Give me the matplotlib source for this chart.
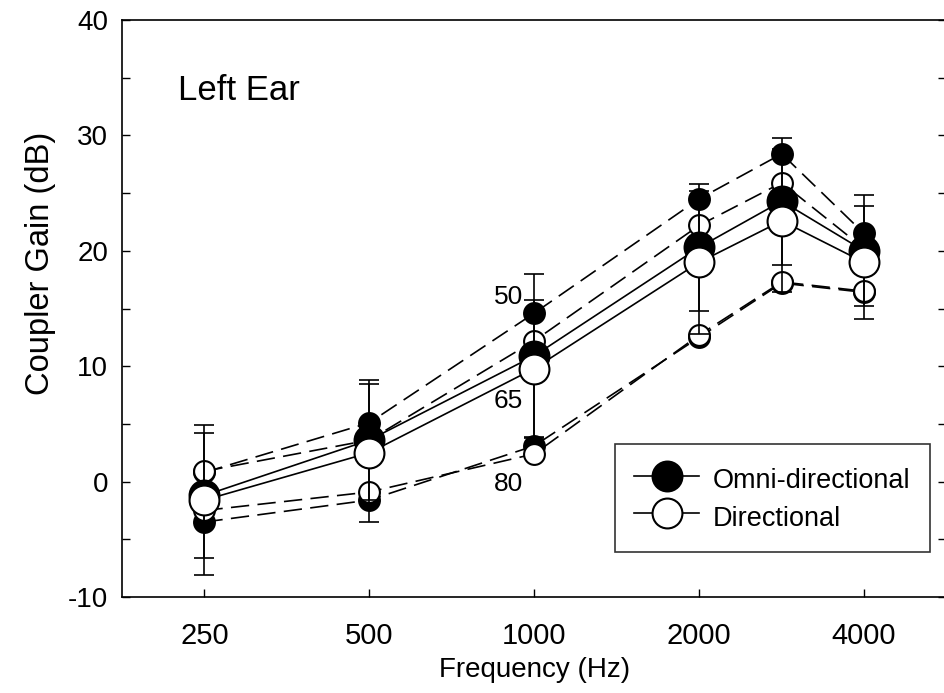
import numpy as np
import matplotlib
matplotlib.use("Agg")
import matplotlib.pyplot as plt
from matplotlib.ticker import MultipleLocator, NullLocator, FixedLocator
from matplotlib.lines import Line2D

plt.rcParams['font.family'] = ['Liberation Sans', 'DejaVu Sans']
plt.rcParams['axes.unicode_minus'] = False

# frequencies (Hz) - the unlabeled point sits half-way between 2000 and 4000
freqs = [250, 500, 1000, 2000, 2830, 4000]
tick_freqs = [250, 500, 1000, 2000, 4000]
tick_labels = ["250", "500", "1000", "2000", "4000"]

# coupler gain (dB) per input level
omni_50 = [0.8, 5.1, 14.6, 24.5, 28.4, 21.5]
omni_65 = [-1.2, 3.6, 10.9, 20.3, 24.3, 20.0]
omni_80 = [-3.5, -1.6, 3.1, 12.5, 17.2, 16.4]
dir_50 = [0.9, 3.6, 12.2, 22.2, 25.9, 20.2]
dir_65 = [-1.6, 2.5, 9.8, 19.0, 22.6, 19.0]
dir_80 = [-2.5, -0.9, 2.4, 12.7, 17.3, 16.5]

# standard deviations, shown for the 65 dB curves only
omni_65_sd = [5.4, 5.2, 7.1, 5.5, 5.5, 4.8]
dir_65_sd = [6.5, 6.0, 5.9, 6.2, 6.2, 4.9]

level_labels = ["50", "65", "80"]
level_label_y = [16.0, 7.0, -0.2]

fig = plt.figure(figsize=(9.45, 6.93), dpi=100)
ax = fig.add_axes([122 / 945, 96 / 693, (946.5 - 122) / 945, (597 - 20) / 693])

small = 15
big = 21.5
lw = 1.2
dash = (0, (11, 5))

# dashed curves for 50 and 80 dB SPL
ax.plot(freqs, omni_50, ls=dash, color="black", lw=lw, marker="o", ms=small,
        mfc="black", mec="black", mew=1.5, zorder=2)
ax.plot(freqs, omni_80, ls=dash, color="black", lw=lw, marker="o", ms=small,
        mfc="black", mec="black", mew=1.5, zorder=2)
ax.plot(freqs, dir_50, ls=dash, color="black", lw=lw, marker="o", ms=small,
        mfc="white", mec="black", mew=1.5, zorder=2.1)
ax.plot(freqs, dir_80, ls=dash, color="black", lw=lw, marker="o", ms=small,
        mfc="white", mec="black", mew=1.5, zorder=2.1)

# error bars
ax.errorbar(freqs, omni_65, yerr=omni_65_sd, fmt="none", ecolor="black",
            elinewidth=1.2, capsize=7, capthick=1.2, zorder=3)
ax.errorbar(freqs, dir_65, yerr=dir_65_sd, fmt="none", ecolor="black",
            elinewidth=1.2, capsize=7, capthick=1.2, zorder=3)

# solid curves for 65 dB SPL
ax.plot(freqs, omni_65, ls="-", color="black", lw=lw, marker="o", ms=big,
        mfc="black", mec="black", mew=1.5, zorder=4)
ax.plot(freqs, dir_65, ls="-", color="black", lw=lw, marker="o", ms=big,
        mfc="white", mec="black", mew=1.5, zorder=4.1)

# input level labels next to 1000 Hz
for lab, yv in zip(level_labels, level_label_y):
    ax.annotate(lab, xy=(1000, yv), xytext=(-8, 0), textcoords="offset points",
                ha="right", va="center", fontsize=19, zorder=5)

ax.text((178 - 122) / (946.5 - 122), (597 - 90) / 577, "Left Ear",
        transform=ax.transAxes, fontsize=25, ha="left", va="center")

ax.set_xscale("log", base=2)
ax.set_xlim(250 / np.sqrt(2), 4000 * np.sqrt(2))
ax.xaxis.set_major_locator(FixedLocator(tick_freqs))
ax.set_xticklabels(tick_labels)
ax.xaxis.set_minor_locator(NullLocator())

ax.set_ylim(-10, 40)
ax.yaxis.set_major_locator(MultipleLocator(10))
ax.yaxis.set_minor_locator(MultipleLocator(5))

ax.tick_params(axis="y", which="both", direction="in", length=6, width=1,
               left=True, right=True, labelsize=20, pad=10)
ax.tick_params(axis="x", which="both", direction="in", length=6, width=1,
               top=False, labelsize=21, pad=18)

for s in ax.spines.values():
    s.set_linewidth(1.2)

ax.set_xlabel("Frequency (Hz)", fontsize=20, labelpad=5)
ax.set_ylabel("Coupler Gain (dB)", fontsize=23.5)
ax.yaxis.set_label_coords(-0.08, (597 - 263) / 577)

handles = [
    Line2D([], [], color="black", lw=1.2, marker="o", ms=big, mfc="black",
           mec="black", mew=1.5),
    Line2D([], [], color="black", lw=1.2, marker="o", ms=big, mfc="white",
           mec="black", mew=1.5),
]
leg = ax.legend(handles, ["Omni-directional", "Directional"], loc="upper left",
                bbox_to_anchor=((615 - 122) / (946.5 - 122), (597 - 444) / 577),
                fontsize=19.5, frameon=True, fancybox=False, edgecolor="black",
                handlelength=2.4, handleheight=1.4, handletextpad=0.5,
                labelspacing=0.23, borderpad=0.72, borderaxespad=0)
leg.get_frame().set_linewidth(1.2)

fig.savefig("out.png", dpi=100)
